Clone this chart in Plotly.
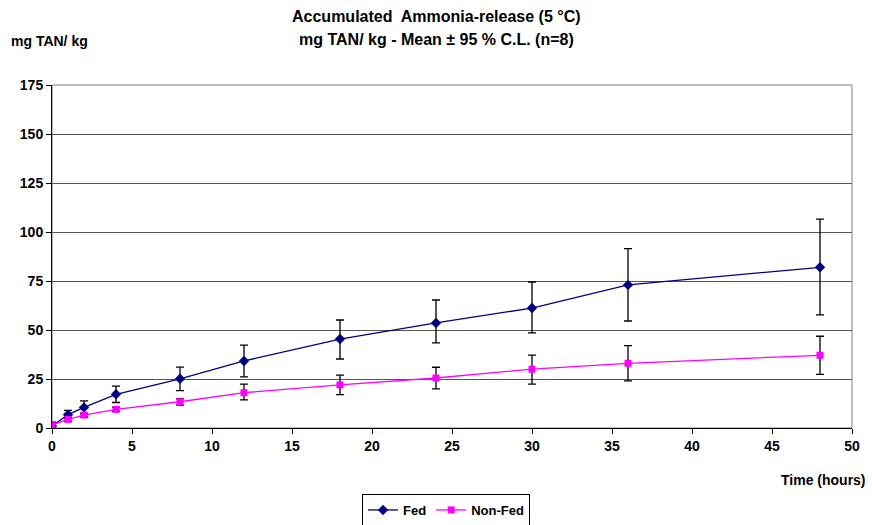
import plotly.graph_objects as go

hours = [0, 1, 2, 4, 8, 12, 18, 24, 30, 36, 48]
fed_mean = [1.0, 6.8, 10.5, 17.2, 25.1, 34.2, 45.4, 53.6, 61.2, 73.0, 82.0]
fed_upper = [2.5, 9.0, 13.8, 21.4, 31.1, 42.3, 55.1, 65.3, 74.5, 91.5, 106.6]
fed_lower = [0.0, 4.8, 7.2, 13.0, 19.1, 26.1, 35.2, 43.4, 48.5, 54.6, 57.7]
nonfed_mean = [1.5, 4.4, 6.6, 9.5, 13.4, 18.0, 22.0, 25.5, 30.0, 33.0, 37.1]
nonfed_upper = [3.0, 5.4, 7.6, 10.5, 15.0, 22.4, 27.0, 31.0, 37.2, 42.0, 46.8]
nonfed_lower = [0.5, 3.4, 5.6, 8.5, 11.7, 14.3, 17.0, 20.0, 22.4, 24.0, 27.4]

fed_plus = [u - m for u, m in zip(fed_upper, fed_mean)]
fed_minus = [m - l for m, l in zip(fed_mean, fed_lower)]
nf_plus = [u - m for u, m in zip(nonfed_upper, nonfed_mean)]
nf_minus = [m - l for m, l in zip(nonfed_mean, nonfed_lower)]

FAM = "Arial, Liberation Sans, sans-serif"

fig = go.Figure()
fig.add_trace(go.Scatter(
    x=hours, y=fed_mean, name="Fed", mode="lines+markers",
    line=dict(color="#000080", width=1.3),
    marker=dict(symbol="diamond", size=8, color="#000080"),
    error_y=dict(type="data", symmetric=False, array=fed_plus, arrayminus=fed_minus,
                 color="black", thickness=1.3, width=4),
))
fig.add_trace(go.Scatter(
    x=hours, y=nonfed_mean, name="Non-Fed", mode="lines+markers",
    line=dict(color="#FF00FF", width=1.3),
    marker=dict(symbol="square", size=7, color="#FF00FF"),
    error_y=dict(type="data", symmetric=False, array=nf_plus, arrayminus=nf_minus,
                 color="black", thickness=1.3, width=4),
))

tickfont = dict(family=FAM, size=14, color="black", weight="bold")

fig.update_layout(
    width=872, height=525,
    margin=dict(l=52, r=20, t=85, b=97),
    paper_bgcolor="white", plot_bgcolor="white",
    font=dict(family=FAM, size=12, color="black"),
    showlegend=True,
    legend=dict(orientation="h", xref="container", yref="container",
                x=0.5115, y=0.0286, xanchor="center", yanchor="middle",
                bordercolor="black", borderwidth=1,
                font=dict(family=FAM, size=13, color="black", weight="bold"),
                itemwidth=30, tracegroupgap=0),
    xaxis=dict(range=[0, 50], dtick=5, showgrid=False, zeroline=False,
               showline=True, linecolor="black", linewidth=1,
               ticks="outside", ticklen=5, tickcolor="black", tickfont=tickfont),
    yaxis=dict(range=[0, 175], dtick=25, showgrid=True, gridcolor="#555555", gridwidth=1,
               zeroline=False, showline=True, linecolor="black", linewidth=1,
               ticks="outside", ticklen=5, tickcolor="black", tickfont=tickfont),
)

fig.add_shape(type="rect", xref="paper", yref="paper", x0=0, y0=0, x1=1, y1=1,
              line=dict(color="#808080", width=1), layer="below")

fig.add_annotation(text="<b>Accumulated  Ammonia-release (5 °C)</b>", xref="paper", yref="paper",
                   x=0.5, xshift=-16, y=1, yanchor="middle", yshift=69, showarrow=False,
                   font=dict(family=FAM, size=16, color="black"))
fig.add_annotation(text="<b>mg TAN/ kg - Mean ± 95 % C.L. (n=8)</b>", xref="paper", yref="paper",
                   x=0.5, xshift=-16, y=1, yanchor="middle", yshift=46, showarrow=False,
                   font=dict(family=FAM, size=16, color="black"))
fig.add_annotation(text="<b>mg TAN/ kg</b>", xref="paper", yref="paper",
                   x=0, xshift=-43, xanchor="left", y=1, yanchor="middle", yshift=44, showarrow=False,
                   font=dict(family=FAM, size=14, color="black"))
fig.add_annotation(text="<b>Time (hours)</b>", xref="paper", yref="paper",
                   x=1, xanchor="right", xshift=16, y=0, yanchor="middle", yshift=-52, showarrow=False,
                   font=dict(family=FAM, size=14, color="black"))

fig.write_html("out.html", config={"displayModeBar": False},
               post_script="document.body.style.margin='0';document.body.style.overflow='hidden';")
